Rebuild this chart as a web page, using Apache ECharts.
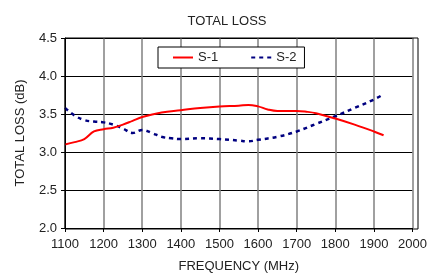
<!DOCTYPE html>
<html>
<head>
<meta charset="utf-8">
<script src="https://cdn.jsdelivr.net/npm/echarts@6/dist/echarts.min.js"></script>
<style>
html, body { margin: 0; padding: 0; background: #fff; }
#chart { width: 430px; height: 278px; }
</style>
</head>
<body>
<div id="chart"></div>
<script>
// frequency (MHz) and loss (dB)
var freq1 = [1100, 1125, 1150, 1175, 1200, 1225, 1250, 1275, 1300, 1350, 1400, 1450, 1500, 1550, 1575, 1600, 1625, 1650, 1700, 1725, 1750, 1800, 1850, 1900, 1925];
var loss1 = [3.10, 3.13, 3.17, 3.27, 3.30, 3.32, 3.36, 3.41, 3.46, 3.52, 3.55, 3.58, 3.60, 3.61, 3.62, 3.60, 3.56, 3.54, 3.54, 3.53, 3.51, 3.44, 3.36, 3.27, 3.22];

var freq2 = [1100, 1125, 1150, 1175, 1200, 1225, 1250, 1275, 1300, 1325, 1350, 1375, 1400, 1450, 1500, 1550, 1575, 1600, 1650, 1700, 1750, 1800, 1850, 1900, 1925];
var loss2 = [3.58, 3.48, 3.42, 3.40, 3.39, 3.36, 3.31, 3.25, 3.29, 3.25, 3.20, 3.18, 3.17, 3.18, 3.17, 3.15, 3.14, 3.16, 3.20, 3.27, 3.37, 3.47, 3.58, 3.69, 3.76];

var xTicks = [1100, 2000, 100];
var yTicks = [2.0, 4.5, 0.5];

function pairs(xs, ys) {
    var out = [];
    for (var i = 0; i < xs.length; i++) {
        out.push([xs[i], ys[i]]);
    }
    return out;
}

var myChart = echarts.init(document.getElementById('chart'));
var fnt = 'Liberation Sans, Arial, sans-serif';

var option = {
    animation: false,
    title: {
        text: 'TOTAL LOSS',
        left: 222,
        textAlign: 'center',
        top: 10,
        textStyle: { fontFamily: fnt, fontSize: 13, fontWeight: 'normal', color: '#222' }
    },
    legend: {
        left: 158,
        top: 47,
        padding: [4, 8, 4, 14],
        itemGap: 32,
        itemWidth: 20,
        itemHeight: 12,
        borderColor: '#000',
        borderWidth: 1,
        backgroundColor: '#fff',
        itemStyle: { opacity: 0, borderWidth: 0 },
        textStyle: { fontFamily: fnt, fontSize: 13, color: '#222' },
        data: ['S-1', 'S-2']
    },
    grid: { left: 65, right: 12, top: 38, bottom: 49 },
    xAxis: {
        type: 'value',
        min: xTicks[0],
        max: xTicks[1],
        interval: xTicks[2],
        name: 'FREQUENCY (MHz)',
        nameLocation: 'middle',
        nameGap: 32,
        nameTextStyle: { fontFamily: fnt, fontSize: 13, color: '#222' },
        axisLine: { show: true, lineStyle: { color: '#000', width: 1 } },
        axisTick: { show: true, length: 4, lineStyle: { color: '#000' } },
        axisLabel: {
            fontFamily: fnt, fontSize: 13, color: '#222', margin: 10, showMaxLabel: true,
            formatter: function (v) { return String(v); }
        },
        splitLine: { show: true, lineStyle: { color: '#808080', width: 1.5 } }
    },
    yAxis: {
        type: 'value',
        min: yTicks[0],
        max: yTicks[1],
        interval: yTicks[2],
        name: 'TOTAL LOSS (dB)',
        nameLocation: 'middle',
        nameGap: 38,
        nameTextStyle: { fontFamily: fnt, fontSize: 13, color: '#222' },
        axisLine: { show: true, lineStyle: { color: '#000', width: 1 } },
        axisTick: { show: true, length: 4, lineStyle: { color: '#000' } },
        axisLabel: {
            fontFamily: fnt, fontSize: 13, color: '#222', margin: 8,
            formatter: function (v) { return v.toFixed(1); }
        },
        splitLine: { show: true, lineStyle: { color: '#000', width: 1 } }
    },
    series: [
        {
            name: 'S-1',
            type: 'line',
            smooth: 0.4,
            symbol: 'none',
            data: pairs(freq1, loss1),
            lineStyle: { color: '#ff0000', width: 2 },
            itemStyle: { color: '#ff0000' },
            z: 3
        },
        {
            name: 'S-2',
            type: 'line',
            smooth: 0.4,
            symbol: 'none',
            data: pairs(freq2, loss2),
            lineStyle: { color: '#000080', width: 2.5, type: [4, 4] },
            itemStyle: { color: '#000080' },
            z: 2
        }
    ]
};

myChart.setOption(option);
// outer frame of the plot
myChart.setOption({
    graphic: [{
        type: 'rect',
        shape: { x: 65, y: 38, width: 353, height: 191 },
        style: { fill: 'none', stroke: '#000', lineWidth: 1 },
        z: 10
    }]
});
</script>
</body>
</html>
